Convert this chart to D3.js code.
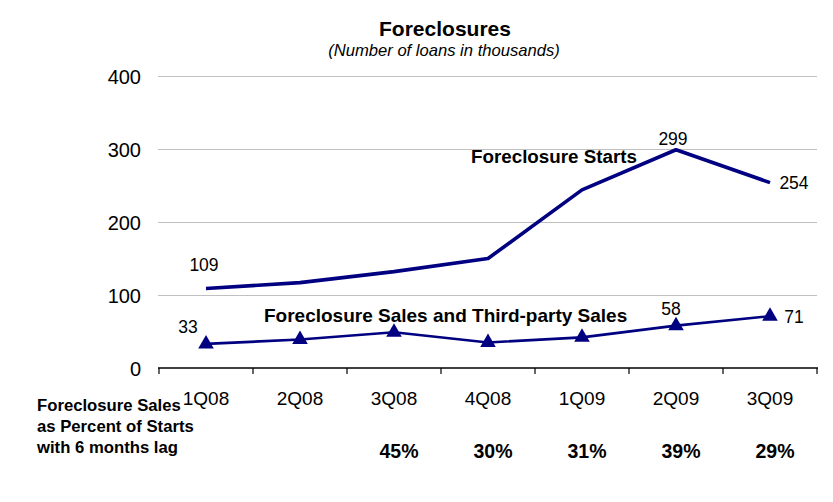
<!DOCTYPE html>
<html>
<head>
<meta charset="utf-8">
<script src="https://cdn.jsdelivr.net/npm/d3@7"></script>
<style>
  body { margin: 0; background: #fff; }
  svg { font-family: "Liberation Sans", Arial, sans-serif; }
</style>
</head>
<body>
<svg id="chart"></svg>
<script>
const quarters = ["1Q08", "2Q08", "3Q08", "4Q08", "1Q09", "2Q09", "3Q09"];
const starts = [109, 117, 132, 150, 244, 299, 254];
const sales = [33, 39, 49, 35, 42, 58, 71];
const pctOfStarts = ["", "", "45%", "30%", "31%", "39%", "29%"];
const yTicks = [0, 100, 200, 300, 400];
const shownLabels = [0, 5, 6];

const w = 833;
const h = 502;
const navy = "#000080";

const svg = d3.select("#chart")
              .attr("width", w)
              .attr("height", h);

// scales
const xScale = d3.scaleBand()
                 .domain(quarters)
                 .range([159, 817]);
const yScale = d3.scaleLinear()
                 .domain([0, 400])
                 .range([368, 76]);
const cx = q => xScale(q) + xScale.bandwidth() / 2;

// title
svg.append("text")
   .attr("x", 445).attr("y", 36)
   .attr("text-anchor", "middle")
   .style("font-size", "21px").style("font-weight", "bold")
   .text("Foreclosures");
svg.append("text")
   .attr("x", 444).attr("y", 56)
   .attr("text-anchor", "middle")
   .style("font-size", "16.6px").style("font-style", "italic")
   .text("(Number of loans in thousands)");

// y axis with gridlines
const yAxis = d3.axisLeft(yScale)
                .tickValues(yTicks)
                .tickSize(-(817 - 158))
                .tickPadding(17);
const yG = svg.append("g")
              .attr("transform", "translate(158,0)")
              .call(yAxis);
yG.select(".domain").remove();
yG.selectAll(".tick line")
  .attr("stroke", "#c0c0c0")
  .attr("stroke-width", 1.2)
  .filter(d => d === 0).remove();
yG.selectAll(".tick text")
  .style("font-size", "20px")
  .attr("dy", "0.35em")
  .attr("fill", "#000");

// x axis line with ticks at band edges
const xG = svg.append("g");
xG.append("line")
  .attr("x1", 158).attr("x2", 818)
  .attr("y1", yScale(0)).attr("y2", yScale(0))
  .attr("stroke", "#000").attr("stroke-width", 1.5);
const edges = quarters.map(q => xScale(q)).concat([xScale.range()[1]]);
xG.selectAll("line.edge")
  .data(edges)
  .enter()
  .append("line")
  .attr("class", "edge")
  .attr("x1", d => d).attr("x2", d => d)
  .attr("y1", yScale(0)).attr("y2", yScale(0) + 6)
  .attr("stroke", "#000").attr("stroke-width", 1.2);
xG.selectAll("text.cat")
  .data(quarters)
  .enter()
  .append("text")
  .attr("class", "cat")
  .attr("x", d => cx(d))
  .attr("y", 405)
  .attr("text-anchor", "middle")
  .style("font-size", "19px")
  .text(d => d);

// lines
const line = d3.line()
               .x((d, i) => cx(quarters[i]))
               .y(d => yScale(d));

svg.append("path")
   .datum(starts)
   .attr("d", line)
   .attr("fill", "none")
   .attr("stroke", navy)
   .attr("stroke-width", 3.6)
   .attr("stroke-linejoin", "round");

svg.append("path")
   .datum(sales)
   .attr("d", line)
   .attr("fill", "none")
   .attr("stroke", navy)
   .attr("stroke-width", 2.6);

svg.selectAll("path.tri")
   .data(sales)
   .enter()
   .append("path")
   .attr("class", "tri")
   .attr("d", d3.symbol().type(d3.symbolTriangle).size(105))
   .attr("transform", (d, i) => `translate(${cx(quarters[i])},${yScale(d)})`)
   .attr("fill", navy);

// data labels
const startOffsets = { 0: [-2, -17], 5: [-3, -5], 6: [24, 6] };
const salesOffsets = { 0: [-18, -11], 5: [-5, -11], 6: [24, 7] };

svg.selectAll("text.sl")
   .data(shownLabels)
   .enter()
   .append("text")
   .attr("class", "sl")
   .attr("x", i => cx(quarters[i]) + startOffsets[i][0])
   .attr("y", i => yScale(starts[i]) + startOffsets[i][1])
   .attr("text-anchor", "middle")
   .style("font-size", "17.5px")
   .text(i => starts[i]);

svg.selectAll("text.sa")
   .data(shownLabels)
   .enter()
   .append("text")
   .attr("class", "sa")
   .attr("x", i => cx(quarters[i]) + salesOffsets[i][0])
   .attr("y", i => yScale(sales[i]) + salesOffsets[i][1])
   .attr("text-anchor", "middle")
   .style("font-size", "17.5px")
   .text(i => sales[i]);

// series names
svg.append("text")
   .attr("x", 471).attr("y", 163)
   .style("font-size", "18.8px").style("font-weight", "bold")
   .text("Foreclosure Starts");
svg.append("text")
   .attr("x", 264).attr("y", 322)
   .style("font-size", "19px").style("font-weight", "bold")
   .text("Foreclosure Sales and Third-party Sales");

// bottom note
const note = ["Foreclosure Sales", "as Percent of Starts", "with 6 months lag"];
svg.selectAll("text.note")
   .data(note)
   .enter()
   .append("text")
   .attr("class", "note")
   .attr("x", 37)
   .attr("y", (d, i) => 411 + i * 21.2)
   .style("font-size", "16.7px").style("font-weight", "bold")
   .text(d => d);

svg.selectAll("text.pct")
   .data(pctOfStarts)
   .enter()
   .append("text")
   .attr("class", "pct")
   .attr("x", (d, i) => cx(quarters[i]) + 5)
   .attr("y", 458)
   .attr("text-anchor", "middle")
   .style("font-size", "19.5px").style("font-weight", "bold")
   .text(d => d);
</script>
</body>
</html>
